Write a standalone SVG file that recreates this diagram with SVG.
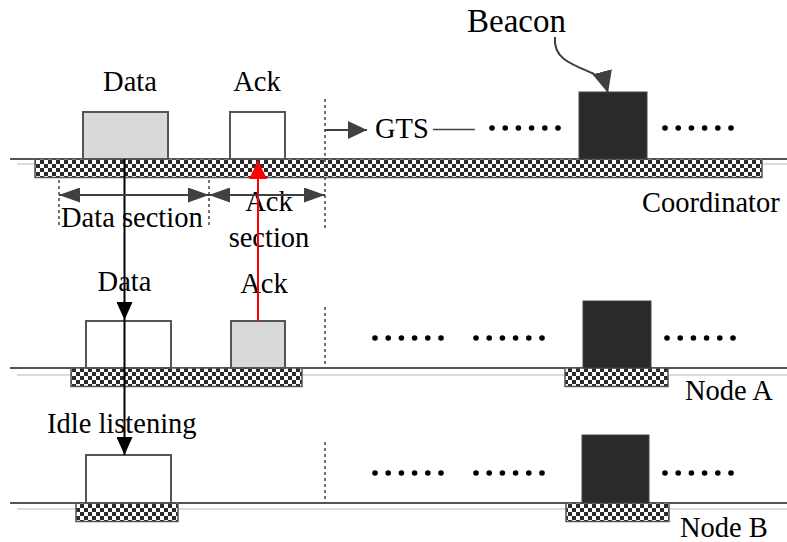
<svg xmlns="http://www.w3.org/2000/svg" width="787" height="542" viewBox="0 0 787 542" font-family="Liberation Serif, Times New Roman, serif">
<style>
text{font-family:'Liberation Serif','Times New Roman',serif;font-size:28.5px;fill:#000}
.tl{stroke:#555;stroke-width:2;fill:none}
.lg{stroke:#dcdcdc;stroke-width:2;fill:none}
.bar{fill:url(#chk);stroke:#555;stroke-width:1.5}
.box{stroke:#555;stroke-width:2}
.w{fill:#fff}
.g{fill:#d9d9d9}
.k{fill:#2a2a2a;stroke:#444;stroke-width:1}
.dash{stroke:#444;stroke-width:1.5;stroke-dasharray:3,3;fill:none}
.dot{fill:#000}
</style>
<defs>
<pattern id="chk" width="8" height="8" patternUnits="userSpaceOnUse">
<rect width="8" height="8" fill="#fff"/>
<rect width="4" height="4" fill="#2b2b2b"/>
<rect x="4" y="4" width="4" height="4" fill="#2b2b2b"/>
</pattern>
<marker id="ahK" markerUnits="userSpaceOnUse" viewBox="0 0 18 16" refX="18" refY="8" markerWidth="18" markerHeight="16" orient="auto"><path d="M0,0L18,8L0,16z" fill="#000"/></marker>
<marker id="ahR" markerUnits="userSpaceOnUse" viewBox="0 0 18 18" refX="18" refY="9" markerWidth="18" markerHeight="18" orient="auto"><path d="M0,0L18,9L0,18z" fill="#f00"/></marker>
<marker id="ahG" markerUnits="userSpaceOnUse" viewBox="0 0 21 15" refX="21" refY="7.5" markerWidth="21" markerHeight="15" orient="auto-start-reverse"><path d="M0,0L21,7.5L0,15z" fill="#404040"/></marker>
<marker id="ahT" markerUnits="userSpaceOnUse" viewBox="0 0 19 18" refX="19" refY="9" markerWidth="19" markerHeight="18" orient="auto"><path d="M0,0L19,9L0,18z" fill="#404040"/></marker>
<marker id="ahB" markerUnits="userSpaceOnUse" viewBox="0 0 22 20" refX="22" refY="10" markerWidth="22" markerHeight="20" orient="auto"><path d="M0,0L22,10L0,20z" fill="#404040"/></marker>
</defs>

<g id="coordinator">
<line class="tl" x1="10" y1="159" x2="787" y2="159"/>
<line class="lg" x1="17" y1="164" x2="35" y2="164"/>
<line class="lg" x1="762" y1="164" x2="787" y2="164"/>
<rect class="bar" x="35" y="159" width="727" height="18.5"/>
<text x="642" y="212">Coordinator</text>
</g>
<g id="coord-data"><rect class="box g" x="83" y="112" width="85" height="47"/><text x="130" y="91" text-anchor="middle">Data</text></g>
<g id="coord-ack"><rect class="box w" x="230" y="112" width="55" height="47"/><text x="257" y="91" text-anchor="middle">Ack</text></g>
<g id="coord-beacon"><rect class="k" x="579" y="92" width="68" height="67"/><text x="467" y="32" style="font-size:33px">Beacon</text></g>
<g id="gts"><text x="375" y="138">GTS</text><line x1="433" y1="129.5" x2="475" y2="129.5" stroke="#444" stroke-width="1.5"/></g>
<g id="coord-dots">
<circle class="dot" cx="492" cy="128" r="2.8"/><circle class="dot" cx="505.2" cy="128" r="2.8"/><circle class="dot" cx="518.4" cy="128" r="2.8"/><circle class="dot" cx="531.6" cy="128" r="2.8"/><circle class="dot" cx="544.8" cy="128" r="2.8"/><circle class="dot" cx="558" cy="128" r="2.8"/>
<circle class="dot" cx="665" cy="128" r="2.8"/><circle class="dot" cx="678.2" cy="128" r="2.8"/><circle class="dot" cx="691.4" cy="128" r="2.8"/><circle class="dot" cx="704.6" cy="128" r="2.8"/><circle class="dot" cx="717.8" cy="128" r="2.8"/><circle class="dot" cx="731" cy="128" r="2.8"/>
</g>
<g id="sections">
<line class="dash" x1="325" y1="99" x2="325" y2="228"/>
<line class="dash" x1="59" y1="180" x2="59" y2="228"/>
<line class="dash" x1="209" y1="180" x2="209" y2="228"/>
<text x="61" y="227">Data section</text>
<text x="269" y="211" text-anchor="middle">Ack</text>
<text x="269" y="247" text-anchor="middle">section</text>
</g>

<g id="nodeA">
<line class="tl" x1="10" y1="368" x2="787" y2="368"/>
<line class="lg" x1="17" y1="375" x2="787" y2="375"/>
<rect class="bar" x="71" y="368" width="231" height="18.5"/>
<rect class="bar" x="565" y="368" width="103" height="18.5"/>
<line class="dash" x1="325" y1="307" x2="325" y2="368"/>
<text x="685" y="400">Node A</text>
</g>
<g id="nodeA-data"><rect class="box w" x="86" y="321" width="85" height="47"/><text x="124.5" y="291" text-anchor="middle">Data</text></g>
<g id="nodeA-ack"><rect class="box g" x="231" y="321" width="54" height="47"/><text x="264" y="293" text-anchor="middle">Ack</text></g>
<g id="nodeA-beacon"><rect class="k" x="583" y="301" width="68" height="67"/></g>
<g id="nodeA-dots">
<circle class="dot" cx="375" cy="338" r="2.8"/><circle class="dot" cx="388.2" cy="338" r="2.8"/><circle class="dot" cx="401.4" cy="338" r="2.8"/><circle class="dot" cx="414.6" cy="338" r="2.8"/><circle class="dot" cx="427.8" cy="338" r="2.8"/><circle class="dot" cx="441" cy="338" r="2.8"/>
<circle class="dot" cx="476" cy="338" r="2.8"/><circle class="dot" cx="489.2" cy="338" r="2.8"/><circle class="dot" cx="502.4" cy="338" r="2.8"/><circle class="dot" cx="515.6" cy="338" r="2.8"/><circle class="dot" cx="528.8" cy="338" r="2.8"/><circle class="dot" cx="542" cy="338" r="2.8"/>
<circle class="dot" cx="667" cy="338" r="2.8"/><circle class="dot" cx="680.2" cy="338" r="2.8"/><circle class="dot" cx="693.4" cy="338" r="2.8"/><circle class="dot" cx="706.6" cy="338" r="2.8"/><circle class="dot" cx="719.8" cy="338" r="2.8"/><circle class="dot" cx="733" cy="338" r="2.8"/>
</g>

<g id="nodeB">
<line class="tl" x1="10" y1="503" x2="787" y2="503"/>
<line class="lg" x1="17" y1="509" x2="787" y2="509"/>
<rect class="bar" x="76" y="503" width="102" height="18.5"/>
<rect class="bar" x="566" y="503" width="103" height="18.5"/>
<line class="dash" x1="325" y1="442" x2="325" y2="503"/>
<text x="680" y="537">Node B</text>
</g>
<g id="nodeB-data"><rect class="box w" x="86" y="455" width="85" height="48"/><text x="47" y="433">Idle listening</text></g>
<g id="nodeB-beacon"><rect class="k" x="582" y="435" width="67" height="68"/></g>
<g id="nodeB-dots">
<circle class="dot" cx="375" cy="473" r="2.8"/><circle class="dot" cx="388.2" cy="473" r="2.8"/><circle class="dot" cx="401.4" cy="473" r="2.8"/><circle class="dot" cx="414.6" cy="473" r="2.8"/><circle class="dot" cx="427.8" cy="473" r="2.8"/><circle class="dot" cx="441" cy="473" r="2.8"/>
<circle class="dot" cx="476" cy="473" r="2.8"/><circle class="dot" cx="489.2" cy="473" r="2.8"/><circle class="dot" cx="502.4" cy="473" r="2.8"/><circle class="dot" cx="515.6" cy="473" r="2.8"/><circle class="dot" cx="528.8" cy="473" r="2.8"/><circle class="dot" cx="542" cy="473" r="2.8"/>
<circle class="dot" cx="665" cy="473" r="2.8"/><circle class="dot" cx="678.2" cy="473" r="2.8"/><circle class="dot" cx="691.4" cy="473" r="2.8"/><circle class="dot" cx="704.6" cy="473" r="2.8"/><circle class="dot" cx="717.8" cy="473" r="2.8"/><circle class="dot" cx="731" cy="473" r="2.8"/>
</g>

<g id="connectors" fill="none">
<path d="M124.5,159V320" stroke="#000" stroke-width="2" marker-end="url(#ahK)"/>
<path d="M124.5,320V455" stroke="#000" stroke-width="2" marker-end="url(#ahK)"/>
<path d="M258,321V161" stroke="#f00" stroke-width="2" marker-end="url(#ahR)"/>
<path d="M59,195H209" stroke="#404040" stroke-width="2" marker-start="url(#ahG)" marker-end="url(#ahG)"/>
<path d="M209,195H325" stroke="#404040" stroke-width="2" marker-start="url(#ahG)" marker-end="url(#ahG)"/>
<path d="M325,130H367" stroke="#404040" stroke-width="2" marker-end="url(#ahT)"/>
<path d="M555,37C553,58 570,64 592,73C600,77 605,82 608,93" stroke="#404040" stroke-width="2" marker-end="url(#ahB)"/>
</g>
</svg>
